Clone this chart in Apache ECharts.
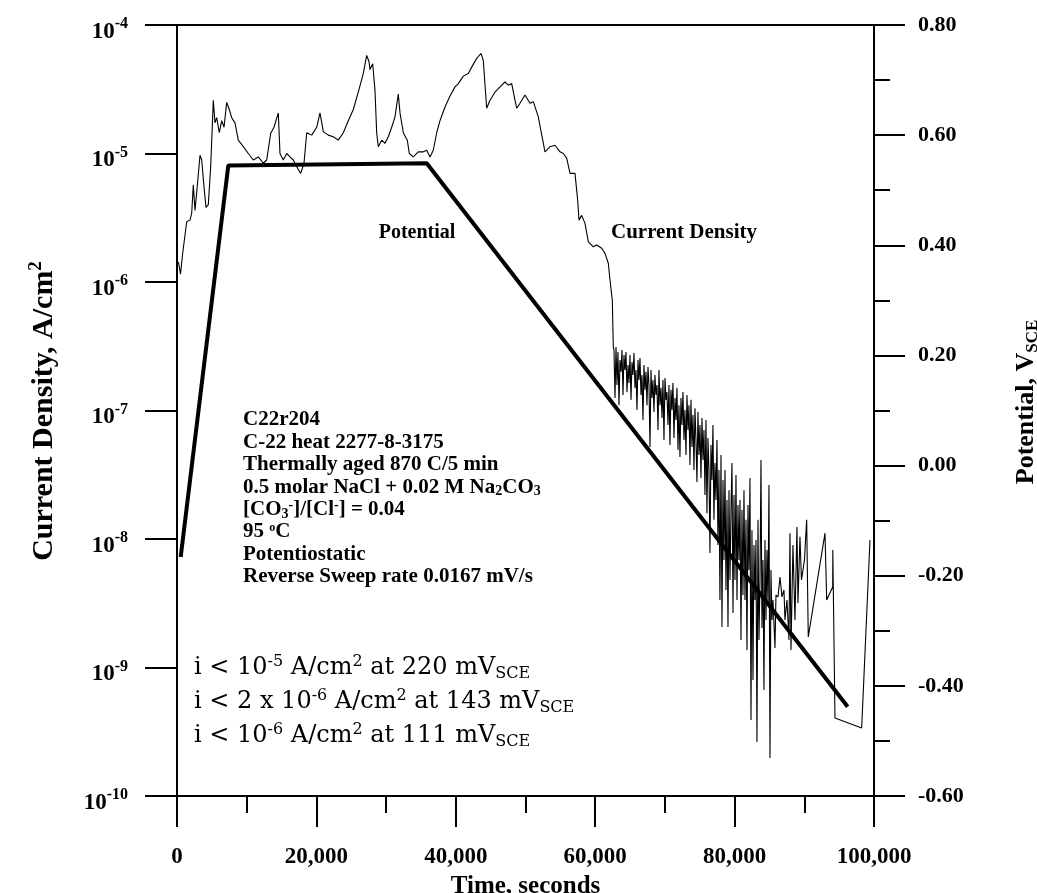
<!DOCTYPE html>
<html><head><meta charset="utf-8">
<script src="https://cdn.jsdelivr.net/npm/echarts/dist/echarts.min.js"></script>
<style>html,body{margin:0;padding:0;background:#fff}#c{width:1037px;height:893px}</style>
</head><body><div id="c"></div>
<script>
// ---- data: [time (s), current density (A/cm2)] ----
const cdPassive = [[215,1.43e-6],[500,1.15e-6],[820,1.68e-6],[1390,2.94e-6],[1865,3.03e-6],[2110,3.44e-6],[2340,5.7e-6],[2580,3.6e-6],[2830,5.0e-6],[3300,9.7e-6],
[3545,8.9e-6],[3875,5.5e-6],[4160,3.8e-6],[4490,4.0e-6],[4835,7.9e-6],[5210,2.6e-5],[5450,1.73e-5],[5695,1.9e-5],[6070,1.45e-5],[6415,1.8e-5],
[6745,1.6e-5],[7130,2.5e-5],[7505,2.2e-5],[7850,1.9e-5],[8320,1.73e-5],[8795,1.27e-5],[9510,1.13e-5],[10230,1.0e-5],[10945,8.9e-6],[11665,9.4e-6],
[12380,8.4e-6],[12870,8.9e-6],[13445,1.44e-5],[13915,1.6e-5],[14535,2.07e-5],[14775,1.0e-5],[15250,8.9e-6],[15740,1.0e-5],[16210,9.4e-6],[16685,8.9e-6],
[17175,7.9e-6],[17745,7.0e-6],[18220,8.4e-6],[18610,1.45e-5],[19325,1.39e-5],[20045,1.6e-5],[20515,2.07e-5],[20990,1.48e-5],[21705,1.39e-5],[22425,1.35e-5],
[23140,1.27e-5],[23860,1.45e-5],[24575,1.8e-5],[25295,2.2e-5],[26010,3.0e-5],[26730,4.2e-5],[27215,5.8e-5],[27545,5.2e-5],[27690,4.5e-5],[28075,5.0e-5],
[28405,3.1e-5],[28650,1.45e-5],[28880,1.13e-5],[29370,1.27e-5],[29840,1.2e-5],[30315,1.35e-5],[30800,1.6e-5],[31275,1.93e-5],[31750,2.9e-5],[31995,2.07e-5],
[32470,1.45e-5],[33040,1.27e-5],[33330,1.0e-5],[33900,9.4e-6],[34620,1.03e-5],[35335,1.03e-5],[35825,1.06e-5],[36300,9.4e-6],[36770,1.06e-5],[37260,1.45e-5],
[37730,1.8e-5],[38450,2.3e-5],[39170,2.8e-5],[39885,3.3e-5],[40360,3.5e-5],[41075,4.0e-5],[41795,4.2e-5],[42280,4.7e-5],[43000,5.5e-5],[43615,6.0e-5],
[43945,5.3e-5],[44430,2.25e-5],[44905,2.6e-5],[45620,3.0e-5],[46340,3.3e-5],[47055,3.6e-5],[47530,3.4e-5],[48020,3.5e-5],[48490,2.6e-5],[48735,2.25e-5],
[49210,2.46e-5],[49925,2.85e-5],[50645,2.46e-5],[51120,2.53e-5],[51835,1.93e-5],[52795,1.03e-5],[53515,1.13e-5],[54230,1.16e-5],[54950,1.03e-5],[55420,1.0e-5],
[55910,9.2e-6],[56385,7.0e-6],[57100,7.0e-6],[57490,4.3e-6],[57675,3.03e-6],[58060,3.3e-6],[58535,2.86e-6],[59010,2.06e-6],[59725,1.88e-6],[60215,1.94e-6],
[60930,1.83e-6],[61405,1.67e-6],[61880,1.4e-6],[62120,1.04e-6],[62455,7.2e-7],[62600,3.1e-7]];
const cdSweepNoise = [[62696,2.96e-7],[62840,1.25e-7],[62983,3.12e-7],[63127,1.58e-7],[63270,2.85e-7],[63414,1.10e-7],[63557,2.47e-7],[63700,2.0e-7],[63844,2.96e-7],[63987,1.32e-7],
[64131,2.70e-7],[64274,2.07e-7],[64417,2.85e-7],[64561,1.39e-7],[64704,2.26e-7],[64848,1.64e-7],[64991,2.70e-7],[65135,1.21e-7],[65278,2.38e-7],[65421,1.89e-7],
[65565,2.80e-7],[65708,1.50e-7],[65852,2.07e-7],[65995,1.01e-7],[66139,2.47e-7],[66282,1.73e-7],[66425,2.56e-7],[66569,1.32e-7],[66712,1.89e-7],[66856,8.44e-8],
[66999,2.26e-7],[67142,1.45e-7],[67286,2.0e-7],[67429,1.10e-7],[67573,2.18e-7],[67716,1.58e-7],[67860,5.2e-8],[68003,2.07e-7],[68146,1.25e-7],[68290,1.73e-7],
[68433,9.73e-8],[68577,1.89e-7],[68720,1.32e-7],[68864,1.58e-7],[69007,7.05e-8],[69150,2.07e-7],[69294,1.10e-7],[69437,1.50e-7],[69581,8.75e-8],[69724,1.73e-7],
[69867,5.89e-8],[70011,1.79e-7],[70154,1.21e-7],[70298,1.39e-7],[70441,7.71e-8],[70585,1.58e-7],[70728,5.39e-8],[70871,1.45e-7],[71015,1.01e-7],[71158,1.64e-7],
[71302,6.11e-8],[71445,1.25e-7],[71589,8.44e-8],[71732,1.50e-7],[71875,4.93e-8],[72019,1.10e-7],[72162,4.35e-8],[72306,1.25e-7],[72449,7.71e-8],[72592,1.39e-7],
[72736,5.89e-8],[72879,1.01e-7],[73023,4.51e-8],[73166,1.32e-7],[73310,7.05e-8],[73453,1.10e-7],[73596,3.77e-8],[73740,1.21e-7],[73883,5.2e-8],[74027,9.23e-8],
[74170,3.44e-8],[74313,1.04e-7],[74457,5.89e-8],[74600,2.78e-8],[74744,9.73e-8],[74887,4.51e-8],[75031,7.71e-8],[75174,2.98e-8],[75317,8.75e-8],[75461,4.12e-8],
[75604,7.05e-8],[75748,2.20e-8],[75891,8.44e-8],[76035,1.59e-8],[76178,6.11e-8],[76321,3.44e-8],[76465,7.78e-9],[76608,5.39e-8],[76752,2.88e-8],[76895,7.71e-8],
[77038,1.41e-8],[77182,3.90e-8],[77325,2.01e-8],[77469,5.89e-8],[77612,8.98e-9],[77756,3.44e-8],[77899,3.35e-9],
[78048,4.51e-8],[78190,2.07e-9],[78334,2.88e-8],[78477,6.87e-9],[78621,3.44e-8],[78764,4.01e-9],[78908,2.01e-8],[79051,2.07e-9],[79194,2.40e-8],[79338,4.80e-9],
[79481,1.68e-8],[79625,3.90e-8],[79768,2.66e-9],[79912,2.20e-8],[80055,4.80e-9],[80198,3.15e-8],[80342,3.35e-9],[80485,1.84e-8],[80629,6.87e-9],[80772,2.01e-8],
[80916,1.64e-9],[81059,1.68e-8],[81202,3.66e-9],[81346,2.40e-8],[81489,3.35e-9],[81633,1.41e-8],[81776,1.37e-9],[81919,1.84e-8],[82063,5.74e-9],[82206,2.98e-8],
[82350,3.90e-10],[82493,1.17e-8],[82637,8.0e-10],[82780,8.98e-9],[82923,3.35e-9],[83067,9.82e-9],[83210,2.63e-10],[83354,1.41e-8],[83497,1.64e-9],[83641,4.80e-9],
[83784,4.12e-8],[83927,2.03e-9],[84071,6.87e-9],[84214,6.68e-10],[84358,9.82e-9],[84501,2.34e-9],[84645,8.20e-9],[84788,3.18e-9],[84931,2.63e-8],[85075,1.98e-10],
[85218,5.74e-9],[85362,2.34e-9],[85505,3.35e-9],[85792,1.42e-9],[85936,3.66e-9],[86223,3.54e-9],[86510,5.06e-9],[86797,3.54e-9],[87084,4.01e-9],[87227,2.34e-9],
[87514,3.35e-9],[87800,1.64e-9],[87944,1.11e-8],[88087,1.37e-9],[88374,8.98e-9],[88661,2.34e-9],[88947,1.24e-8],[89091,3.18e-9],[89378,1.04e-8],[89593,4.80e-9],
[89808,5.74e-9],[90023,6.87e-9],[90339,1.41e-8],[90569,1.73e-9],[92970,1.11e-8],[93214,3.35e-9],[94075,4.23e-9],[94090,8.20e-9],[94400,4.05e-10],[98231,3.38e-10],
[99425,9.82e-9]];
// [time (s), potential (V_SCE)]
const potential = [[530,-0.166],[7360,0.545],[35825,0.549],[96225,-0.438]];

const timeRange = [0, 100000];
const timeStep = 20000;
const currentRange = [1e-10, 1e-4];
const potentialRange = [-0.6, 0.8];
const potentialStep = 0.2;

const infoLines = [
  'C22r204',
  'C-22 heat 2277-8-3175',
  'Thermally aged 870 C/5 min',
  '0.5 molar NaCl + 0.02 M Na{sub|2}CO{sub|3}',
  '[CO{sub|3}{sup|-}]/[Cl{sup|-}] = 0.04',
  '95 {deg|o}C',
  'Potentiostatic',
  'Reverse Sweep rate 0.0167 mV/s'
];
const limitLines = [
  'i < 10{sup|-5} A/cm{sup|2} at 220 mV{sub|SCE}',
  'i < 2 x 10{sup|-6} A/cm{sup|2} at 143 mV{sub|SCE}',
  'i < 10{sup|-6} A/cm{sup|2} at 111 mV{sub|SCE}'
];

// ---- chart ----
const SERIF = "'Liberation Serif','Times New Roman',serif";
const WIDE_SERIF = "'DejaVu Serif','Liberation Serif',serif";
const cdData = cdPassive.concat(cdSweepNoise);
const axisLine = {show: true, onZero: false, lineStyle: {color: '#000', width: 2}};
const tickStyle = {color: '#000', width: 2};

function tok(fam, size, weight, pad) {
  return {fontSize: size, fontWeight: weight, fontFamily: fam, fill: '#000', padding: pad};
}
const boldRich = {sub: tok(SERIF, 14, 'bold', [9, 0, 0, 0]), sup: tok(SERIF, 14, 'bold', [0, 0, 9, 0]), deg: tok(SERIF, 12, 'bold', [0, 0, 9, 0])};
const regRich = {sub: tok(WIDE_SERIF, 16, 'normal', [12, 0, 0, 0]), sup: tok(WIDE_SERIF, 16, 'normal', [0, 0, 12, 0])};

const graphic = [];
infoLines.forEach((s, k) => graphic.push({type: 'text', x: 243, y: 420 + k * 22.4,
  style: {text: s, fontSize: 21, fontWeight: 'bold', fontFamily: SERIF, fill: '#000', align: 'left', verticalAlign: 'middle', rich: boldRich}}));
limitLines.forEach((s, k) => graphic.push({type: 'text', x: 194, y: 668 + k * 34,
  style: {text: s, fontSize: 24, fontWeight: 'normal', fontFamily: WIDE_SERIF, fill: '#000', align: 'left', verticalAlign: 'middle', rich: regRich}}));
graphic.push({type: 'text', x: 417, y: 233, style: {text: 'Potential', fontSize: 20, fontWeight: 'bold', fontFamily: SERIF, fill: '#000', align: 'center', verticalAlign: 'middle'}});
graphic.push({type: 'text', x: 684, y: 233, style: {text: 'Current Density', fontSize: 21, fontWeight: 'bold', fontFamily: SERIF, fill: '#000', align: 'center', verticalAlign: 'middle'}});
graphic.push({type: 'text', x: 44, y: 411, rotation: Math.PI / 2,
  style: {text: 'Current Density, A/cm{sup|2}', fontSize: 30, fontWeight: 'bold', fontFamily: SERIF, fill: '#000', align: 'center', verticalAlign: 'middle',
    rich: {sup: tok(SERIF, 19, 'bold', [0, 0, 15, 0])}}});
graphic.push({type: 'text', x: 1026, y: 402, rotation: Math.PI / 2,
  style: {text: 'Potential, V{sub|SCE}', fontSize: 26, fontWeight: 'bold', fontFamily: SERIF, fill: '#000', align: 'center', verticalAlign: 'middle',
    rich: {sub: tok(SERIF, 17, 'bold', [13, 0, 0, 0])}}});

const chart = echarts.init(document.getElementById('c'), null, {renderer: 'canvas'});
chart.setOption({
  animation: false,
  backgroundColor: '#fff',
  grid: {left: 177, right: 163, top: 25, bottom: 97, containLabel: false, outerBoundsMode: 'none'},
  xAxis: [{
    type: 'value', min: timeRange[0], max: timeRange[1], interval: timeStep, position: 'bottom',
    axisLine: axisLine,
    axisTick: {show: true, length: 31, lineStyle: tickStyle},
    minorTick: {show: true, splitNumber: 2, length: 17, lineStyle: tickStyle},
    splitLine: {show: false},
    axisLabel: {margin: 50, fontFamily: SERIF, fontSize: 23, fontWeight: 'bold', color: '#000',
      formatter: v => v.toLocaleString('en-US')},
    name: 'Time, seconds', nameLocation: 'middle', nameGap: 72,
    nameTextStyle: {fontFamily: SERIF, fontSize: 25, fontWeight: 'bold', color: '#000'}
  }, {
    type: 'value', min: timeRange[0], max: timeRange[1], position: 'top',
    axisLine: axisLine, axisTick: {show: false}, axisLabel: {show: false}, splitLine: {show: false}
  }],
  yAxis: [{
    type: 'log', logBase: 10, min: currentRange[0], max: currentRange[1], position: 'left',
    axisLine: axisLine,
    axisTick: {show: true, length: 32, lineStyle: tickStyle},
    splitLine: {show: false},
    axisLabel: {margin: 49,
      formatter: v => '{b|10}{s|' + Math.round(Math.log10(v)) + '}',
      rich: {
        b: {fontFamily: SERIF, fontSize: 23, fontWeight: 'bold', color: '#000', padding: [14, 0, 0, 0]},
        s: {fontFamily: SERIF, fontSize: 16, fontWeight: 'bold', color: '#000', padding: [0, 0, 2, 0]}
      }}
  }, {
    type: 'value', min: potentialRange[0], max: potentialRange[1], interval: potentialStep, position: 'right',
    axisLine: axisLine,
    axisTick: {show: true, length: 31, lineStyle: tickStyle},
    minorTick: {show: true, splitNumber: 2, length: 16, lineStyle: tickStyle},
    splitLine: {show: false},
    axisLabel: {margin: 44, fontFamily: SERIF, fontSize: 22, fontWeight: 'bold', color: '#000',
      formatter: v => v.toFixed(2)}
  }],
  graphic: graphic,
  series: [{
    name: 'Current Density', type: 'line', xAxisIndex: 0, yAxisIndex: 0, data: cdData,
    showSymbol: false, symbol: 'none', lineStyle: {color: '#000', width: 1.1}, z: 3
  }, {
    name: 'Potential', type: 'line', xAxisIndex: 0, yAxisIndex: 1, data: potential,
    showSymbol: false, symbol: 'none', lineStyle: {color: '#000', width: 4}, z: 4
  }]
});
</script></body></html>
